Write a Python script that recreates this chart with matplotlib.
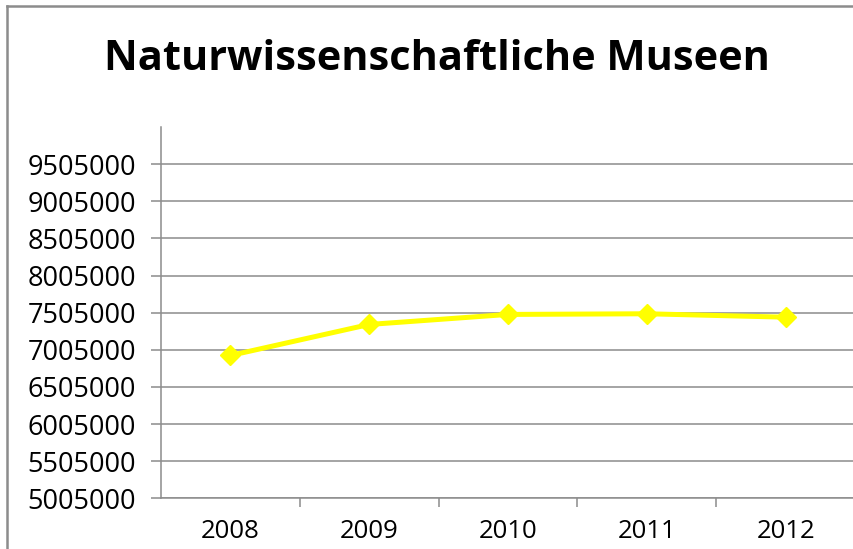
import matplotlib
matplotlib.use("Agg")
import matplotlib.pyplot as plt
from matplotlib.lines import Line2D
from matplotlib.ticker import FixedLocator, NullFormatter
from matplotlib import font_manager

title = "Naturwissenschaftliche Museen"
years = ["2008", "2009", "2010", "2011", "2012"]
visitors = [6928000, 7346000, 7481000, 7490000, 7444000]
y_ticks = [5005000, 5505000, 6005000, 6505000, 7005000, 7505000,
           8005000, 8505000, 9005000, 9505000]

W, H = 854, 549
fig = plt.figure(figsize=(W / 100, H / 100), dpi=100)
fig.patch.set_facecolor("white")

# outer chart border (top and left visible; right/bottom cropped)
border_kw = dict(transform=fig.transFigure, color="#8c8c8c", linewidth=1.8)
fig.add_artist(Line2D([7 / W, 1.0], [1 - 6 / H, 1 - 6 / H], **border_kw))
fig.add_artist(Line2D([7 / W, 7 / W], [0.0, 1 - 6 / H], **border_kw))

left, right = 161 / W, 855 / W
bottom, top = (H - 498.3) / H, (H - 127) / H
ax = fig.add_axes([left, bottom, right - left, top - bottom])
ax.set_facecolor("white")

x = list(range(len(years)))
ax.plot(x, visitors, color="#FFFF00", linewidth=3.6, marker="D",
        markersize=10.5, markeredgewidth=1, markeredgecolor="#FFFF00",
        markerfacecolor="#FFFF00", zorder=3, solid_joinstyle="round")

ax.set_xlim(-0.5, len(years) - 0.5)
ax.set_ylim(5005000, 10005000)

ax.set_yticks(y_ticks)
ax.set_yticklabels([str(v) for v in y_ticks])
ax.yaxis.grid(True, color="#8c8c8c", linewidth=1.1)
ax.set_axisbelow(True)

ax.set_xticks(x)
ax.set_xticklabels(years)
ax.xaxis.set_minor_locator(FixedLocator([i + 0.5 for i in range(len(years))]))
ax.xaxis.set_minor_formatter(NullFormatter())

for s in ["top", "right"]:
    ax.spines[s].set_visible(False)
for s in ["left", "bottom"]:
    ax.spines[s].set_color("#8c8c8c")
    ax.spines[s].set_linewidth(1.1)

ax.tick_params(axis="y", which="major", length=7, width=1.1, color="#8c8c8c",
               pad=11, labelsize=19.5, labelcolor="black")
ax.tick_params(axis="x", which="major", length=0, pad=15, labelsize=18.5,
               labelcolor="black")
ax.tick_params(axis="x", which="minor", length=6.5, width=1.1, color="#8c8c8c")
for lab in ax.get_yticklabels() + ax.get_xticklabels():
    lab.set_fontfamily("Open Sans")

# pick a narrow font if available, else Open Sans; fit title width
title_family = "Open Sans"
try:
    font_manager.findfont(font_manager.FontProperties(family="Liberation Sans Narrow",
                                                      weight="bold"),
                          fallback_to_default=False)
    title_family = "Liberation Sans Narrow"
except Exception:
    pass

t = fig.text(437 / W, 1 - 60 / H, title, ha="center", va="center",
             fontsize=33, fontweight="bold", family=title_family, color="black")
renderer = fig.canvas.get_renderer()
w = t.get_window_extent(renderer).width
target = 665.0
t.set_fontsize(min(40, 33 * target / w))

fig.savefig("out.png", dpi=100, facecolor="white")
